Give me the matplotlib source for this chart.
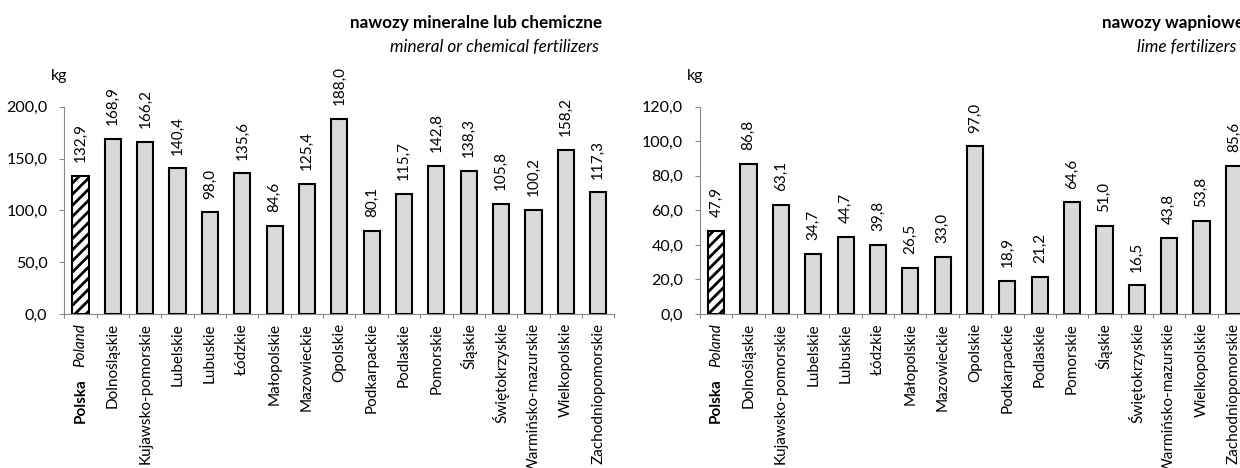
import matplotlib
matplotlib.use("Agg")
import matplotlib.pyplot as plt
from matplotlib.ticker import FuncFormatter, FixedLocator

# Regions (voivodeships) in display order; index 0 is the national total
regions = ["Polska", "Dolnośląskie", "Kujawsko-pomorskie", "Lubelskie", "Lubuskie",
           "Łódzkie", "Małopolskie", "Mazowieckie", "Opolskie", "Podkarpackie",
           "Podlaskie", "Pomorskie", "Śląskie", "Świętokrzyskie",
           "Warmińsko-mazurskie", "Wielkopolskie", "Zachodniopomorskie"]

# kg per 1 ha of agricultural land
mineral = [132.9, 168.9, 166.2, 140.4, 98.0, 135.6, 84.6, 125.4, 188.0, 80.1,
           115.7, 142.8, 138.3, 105.8, 100.2, 158.2, 117.3]
lime = [47.9, 86.8, 63.1, 34.7, 44.7, 39.8, 26.5, 33.0, 97.0, 18.9,
        21.2, 64.6, 51.0, 16.5, 43.8, 53.8, 85.6]

mineral_ticks = [0, 50, 100, 150, 200]
lime_ticks = [0, 20, 40, 60, 80, 100, 120]

FONT = ["Lato", "DejaVu Sans"]
plt.rcParams["font.family"] = FONT
plt.rcParams["hatch.linewidth"] = 2.0

W, H = 1240, 468
fig = plt.figure(figsize=(W / 100, H / 100), dpi=100)

FS = 11
GRAY = "#888888"


def px(x, y):
    return x / W, 1 - y / H


def draw_panel(ax, values, yticks, title, subtitle, title_x, title_ha, sub_x):
    n = len(values)
    xs = list(range(n))
    colors = ["white"] + ["#d9d9d9"] * (n - 1)
    hatches = ["///"] + [""] * (n - 1)
    bars = ax.bar(xs, values, width=0.5, color=colors, edgecolor="black",
                  linewidth=1.5, zorder=3)
    for b, h in zip(bars, hatches):
        b.set_hatch(h)

    for x, v in zip(xs, values):
        ax.annotate(f"{v:.1f}".replace(".", ","), xy=(x, v), xytext=(0, 10),
                    textcoords="offset points", rotation=90, ha="center",
                    va="bottom", fontsize=FS)

    ax.set_xlim(-0.5, n - 0.5)
    ax.set_ylim(yticks[0], yticks[-1])
    ax.set_yticks(yticks)
    ax.yaxis.set_major_formatter(FuncFormatter(lambda v, _: f"{v:.1f}".replace(".", ",")))
    ax.tick_params(axis="y", length=3.6, width=0.8, color=GRAY, pad=8.5,
                   labelsize=FS + 0.5)

    ax.set_xticks(xs)
    ax.set_xticklabels([""] + regions[1:], rotation=90, fontsize=FS,
                       ha="center", va="top")
    ax.tick_params(axis="x", which="major", length=0, pad=6.5)
    ax.xaxis.set_minor_locator(FixedLocator([i - 0.5 for i in range(n + 1)]))
    ax.tick_params(axis="x", which="minor", length=3, width=0.8, color=GRAY)

    for s in ("top", "right"):
        ax.spines[s].set_visible(False)
    for s in ("left", "bottom"):
        ax.spines[s].set_color(GRAY)
        ax.spines[s].set_linewidth(0.8)

    # national total label: italic English name on top, bold Polish name below
    en = ax.annotate("Poland", xy=(0, 0), xycoords=("data", "axes fraction"),
                     xytext=(0, -6.5), textcoords="offset points", rotation=90,
                     ha="center", va="top", fontsize=FS, style="italic")
    ax.annotate("Polska", xy=(0.5, 0), xycoords=en, xytext=(0, -8),
                textcoords="offset points", rotation=90, ha="center",
                va="top", fontsize=FS, weight="bold")

    ax.annotate("kg", xy=(0, 1), xycoords="axes fraction", xytext=(-3.5, 22),
                textcoords="offset points", ha="center", va="center",
                fontsize=FS + 0.5)

    tx, ty = px(title_x, 23)
    fig.text(tx, ty, title, ha=title_ha, va="center", fontsize=12.3,
             weight="bold")
    sx, sy = px(sub_x, 47)
    fig.text(sx, sy, subtitle, ha=title_ha, va="center", fontsize=12.3,
             style="italic")


bottom = (H - 314) / H
height = (314 - 106.7) / H
width = 550 / W

ax1 = fig.add_axes([64.3 / W, bottom, width, height])
draw_panel(ax1, mineral, mineral_ticks, "nawozy mineralne lub chemiczne",
           "mineral or chemical fertilizers", 602, "right", 599)

ax2 = fig.add_axes([700 / W, bottom, width, height])
draw_panel(ax2, lime, lime_ticks, "nawozy wapniowe", "lime fertilizers",
           1101.7, "left", 1137)

fig.savefig("out.png", dpi=100)
